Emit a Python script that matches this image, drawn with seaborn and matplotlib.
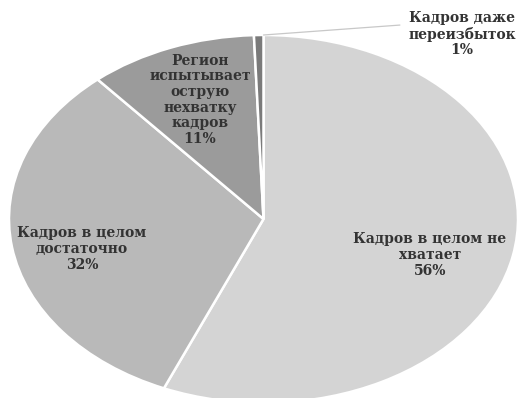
import matplotlib
matplotlib.use("Agg")
import matplotlib.pyplot as plt
import seaborn as sns

categories = ["Кадров в целом не\nхватает", "Кадров в целом\nдостаточно",
              "Регион\nиспытывает\nострую\nнехватку\nкадров", "Кадров даже\nпереизбыток"]
values = [56.4, 32.3, 10.7, 0.6]
colors = ["#d4d4d4", "#b9b9b9", "#9b9b9b", "#7a7a7a"]

sns.set_style("white")
plt.rcParams['font.family'] = ['DejaVu Serif']

W, H = 519, 398
fig = plt.figure(figsize=(W / 100, H / 100), dpi=100)
cx, cy, rx, ry = 263.5, 219, 254.5, 184
ax = fig.add_axes([(cx - rx) / W, (H - cy - ry) / H, 2 * rx / W, 2 * ry / H])

wedges, _ = ax.pie(values, colors=colors, startangle=90, counterclock=False,
                   radius=1.0, wedgeprops=dict(edgecolor="white", linewidth=1.8))
ax.set_aspect("auto")
ax.set_xlim(-1, 1)
ax.set_ylim(-1, 1)
ax.axis("off")

total = sum(values)
label_pos = [(0.654, -0.196), (-0.713, -0.163), (-0.250, 0.647), (0.780, 1.005)]
txt_style = dict(ha="center", va="center", fontsize=10, fontweight="bold",
                 color="#333333", linespacing=1.15)
for cat, v, (x, y) in zip(categories, values, label_pos):
    ax.text(x, y, f"{cat}\n{round(100 * v / total):.0f}%", clip_on=False, **txt_style)

# leader line for the smallest slice
ax.plot([0.0, 0.536], [1.0, 1.054], color="#c8c8c8", lw=0.9, clip_on=False)

fig.savefig("out.png", dpi=100)
